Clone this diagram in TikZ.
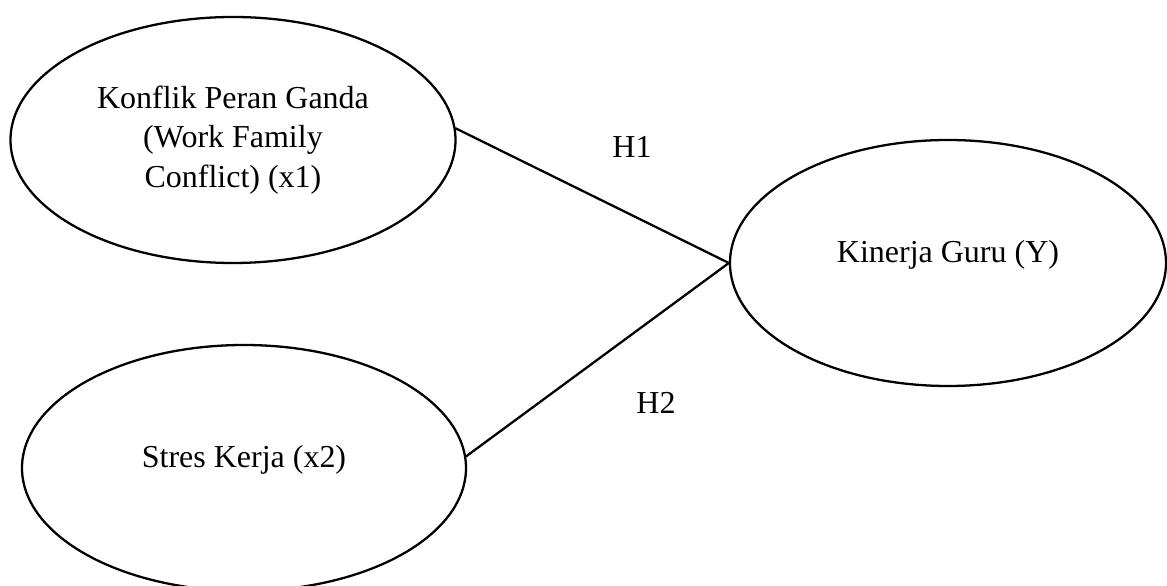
\documentclass[tikz,border=0pt]{standalone}
\usepackage{fontspec}
\setmainfont{Liberation Serif}
\usetikzlibrary{shapes.geometric,positioning}
\tikzset{
    every picture/.style={line cap=round,line join=round},
    varnode/.style={draw=black,ellipse,line width=1.3pt,inner sep=0pt,
      minimum width=8.9cm,minimum height=4.92cm,align=center,
      font=\fontsize{18.2}{22.6}\selectfont},
    liftedtext/.style={text depth=0.45cm},
    pathline/.style={draw=black,line width=1.3pt},
    hyplabel/.style={font=\fontsize{18.2}{22.6}\selectfont}
}
\begin{document}
\begin{tikzpicture}
  \useasboundingbox (0,0) rectangle (23.34,11.72);
  \node[varnode] (x1) at (4.66,8.92){Konflik Peran Ganda\\(Work Family\\Conflict) (x1)};
  \node[varnode,liftedtext,minimum width=8.88cm] (x2) at (4.88,2.36){Stres Kerja (x2)};
  \node[varnode,liftedtext,minimum width=8.72cm] (y) at (18.96,6.46){Kinerja Guru (Y)};
  \draw[pathline] (x1.3) -- (y.west);
  \draw[pathline] (x2.3) -- (y.west);
  \node[hyplabel] (h1) at (12.64,8.78){H1};
  \node[hyplabel] (h2) at (13.12,3.66){H2};
\end{tikzpicture}
\end{document}
